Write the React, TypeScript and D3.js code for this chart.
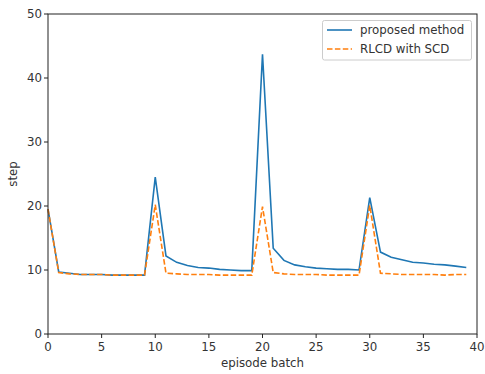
import React from "react";
import * as d3 from "d3";

const episodes = d3.range(0, 40);
const proposed = [19.5, 9.7, 9.5, 9.3, 9.3, 9.3, 9.2, 9.2, 9.2, 9.2, 24.5, 12.2, 11.2, 10.7, 10.4, 10.3, 10.1, 10.0, 9.9, 9.9, 43.7, 13.4, 11.5, 10.8, 10.5, 10.3, 10.2, 10.1, 10.1, 10.0, 21.3, 12.8, 12.0, 11.6, 11.2, 11.1, 10.9, 10.8, 10.6, 10.4];
const rlcd = [19.5, 9.6, 9.4, 9.3, 9.3, 9.3, 9.2, 9.2, 9.2, 9.2, 20.2, 9.5, 9.4, 9.3, 9.3, 9.3, 9.2, 9.2, 9.2, 9.2, 19.9, 9.6, 9.4, 9.3, 9.3, 9.3, 9.2, 9.2, 9.2, 9.2, 20.1, 9.5, 9.4, 9.3, 9.3, 9.3, 9.3, 9.2, 9.3, 9.3];
const xTicks = [0, 5, 10, 15, 20, 25, 30, 35, 40];
const yTicks = [0, 10, 20, 30, 40, 50];
const seriesNames = ["proposed method", "RLCD with SCD"];

export default function App() {
  const W = 485, H = 374;
  const L = 48, R = 477, T = 14, B = 334;
  const x = d3.scaleLinear().domain([0, 40]).range([L, R]);
  const y = d3.scaleLinear().domain([0, 50]).range([B, T]);
  const line = d3.line<number>().x((_, i) => x(episodes[i])).y((d) => y(d));
  const font = "DejaVu Sans, sans-serif";
  const fs = 11.8;
  return (
    <svg width={W} height={H} style={{ position: "absolute", left: 0, top: 0 }}>
      <rect width={W} height={H} fill="#fff" />
      <path d={line(proposed) || ""} fill="none" stroke="#1f77b4" strokeWidth={1.6} />
      <path d={line(rlcd) || ""} fill="none" stroke="#ff7f0e" strokeWidth={1.6} strokeDasharray="5.5,2.4" />
      <rect x={L} y={T} width={R - L} height={B - T} fill="none" stroke="#222" strokeWidth={1} />
      {xTicks.map((t) => (
        <g key={"x" + t}>
          <line x1={x(t)} x2={x(t)} y1={B} y2={B + 4} stroke="#222" />
          <text x={x(t)} y={B + 17} textAnchor="middle" fontFamily={font} fontSize={fs} fill="#333">{t}</text>
        </g>
      ))}
      {yTicks.map((t) => (
        <g key={"y" + t}>
          <line x1={L - 4} x2={L} y1={y(t)} y2={y(t)} stroke="#222" />
          <text x={L - 6} y={y(t) + 4} textAnchor="end" fontFamily={font} fontSize={fs} fill="#333">{t}</text>
        </g>
      ))}
      <text x={(L + R) / 2} y={367} textAnchor="middle" fontFamily={font} fontSize={fs} fill="#333">episode batch</text>
      <text transform={`translate(17,${(T + B) / 2}) rotate(-90)`} textAnchor="middle" fontFamily={font} fontSize={fs} fill="#333">step</text>
      <rect x={322.5} y={20.5} width={149} height={39.5} rx={2} fill="#fff" fillOpacity={0.8} stroke="#ccc" />
      <line x1={327} x2={352} y1={30} y2={30} stroke="#1f77b4" strokeWidth={1.6} />
      <line x1={327} x2={352} y1={49} y2={49} stroke="#ff7f0e" strokeWidth={1.6} strokeDasharray="5.5,2.4" />
      <text x={360} y={34} fontFamily={font} fontSize={fs} fill="#333">{seriesNames[0]}</text>
      <text x={360} y={53} fontFamily={font} fontSize={fs} fill="#333">{seriesNames[1]}</text>
    </svg>
  );
}
